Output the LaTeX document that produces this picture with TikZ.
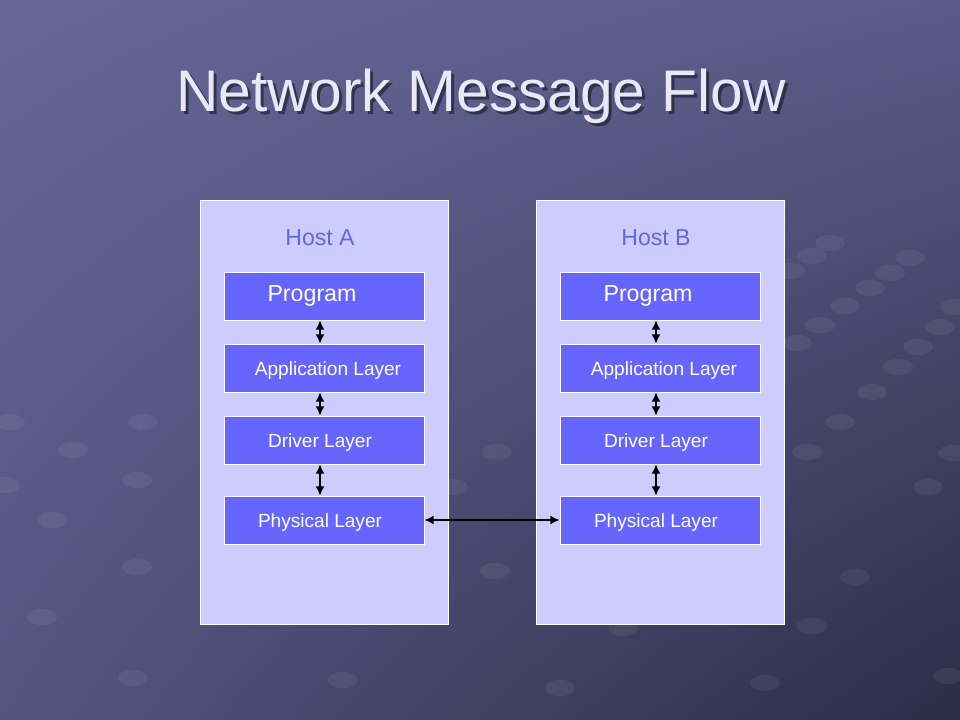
\documentclass[tikz,border=0pt]{standalone}
\usepackage{fontspec}
\setmainfont{Liberation Sans}
\usetikzlibrary{arrows.meta,shadings}
\definecolor{bgtop}{RGB}{102,102,152}
\definecolor{bgbot}{RGB}{44,44,70}
\definecolor{hostfill}{RGB}{204,204,255}
\definecolor{layerfill}{RGB}{102,102,255}
\definecolor{hostlabel}{RGB}{102,102,221}
\definecolor{titlecol}{RGB}{232,232,248}
\begin{document}
\begin{tikzpicture}[x=0.75pt,y=-0.75pt]
        \tikzstyle{host}=[draw=white,line width=0.6pt,fill=hostfill,minimum width=186pt,minimum height=318pt,inner sep=0pt]
        \tikzstyle{layer}=[draw=white,line width=0.6pt,fill=layerfill,minimum width=150pt,minimum height=36pt,inner sep=0pt]
        \tikzstyle{layertext}=[anchor=base,text=white,font=\fontsize{14.3}{16}\selectfont,inner sep=0pt]
        \tikzstyle{link}=[draw,{Latex[length=7pt,width=6.5pt]}-{Latex[length=7pt,width=6.5pt]},line width=0.8pt]
        % background
        \shade[upper left=bgtop,upper right=bgtop!80!bgbot,lower left=bgtop!70!bgbot,lower right=bgbot] (0,0) rectangle (960,720);
        \useasboundingbox (0,0) rectangle (960,720);
        \foreach \px/\py in {830/243,812/256,790/271,910/258,890/273,870/288,845/306,820/325,797/343,
            955/307,940/327,918/347,898/367,872/392,840/422,807/452,953/453,928/487,
            855/577,812/626,765/683,948/676,623/628,10/422,143/422,73/450,137/480,5/485,
            53/520,137/567,42/617,133/678,497/452,495/571,453/487,343/680,560/688}
          \fill[white,opacity=0.06] (\px,\py) ellipse (15 and 8);
        % title
        \node[anchor=base,text=black,opacity=0.45,font=\fontsize{44}{50}\selectfont] (shadow) at (484,115) {Network Message Flow};
        \node[anchor=base,text=titlecol,font=\fontsize{44}{50}\selectfont] (title) at (481,112) {Network Message Flow};
        \begin{scope}
         % host A
         \node [host] (hA) at (324,412) {};
         \node [anchor=base,text=hostlabel,font=\fontsize{17.3}{20}\selectfont] (hAl) at (320,246) {Host A};
         \node [layer] (pA) at (324,296) {};
         \node [layer] (aA) at (324,368) {};
         \node [layer] (dA) at (324,440) {};
         \node [layer] (yA) at (324,520) {};
         \node [layertext,font=\fontsize{17.4}{20}\selectfont] at (312,301) {Program};
         \node [layertext] at (328,375) {Application Layer};
         \node [layertext] at (320,447) {Driver Layer};
         \node [layertext] at (320,527) {Physical Layer};
         % host B
         \node [host] (hB) at (660,412) {};
         \node [anchor=base,text=hostlabel,font=\fontsize{17.3}{20}\selectfont] (hBl) at (656,246) {Host B};
         \node [layer] (pB) at (660,296) {};
         \node [layer] (aB) at (660,368) {};
         \node [layer] (dB) at (660,440) {};
         \node [layer] (yB) at (660,520) {};
         \node [layertext,font=\fontsize{17.4}{20}\selectfont] at (648,301) {Program};
         \node [layertext] at (664,375) {Application Layer};
         \node [layertext] at (656,447) {Driver Layer};
         \node [layertext] at (656,527) {Physical Layer};

         \path[link] ([xshift=-3pt]pA.south) -- ([xshift=-3pt]aA.north);
         \path[link] ([xshift=-3pt]aA.south) -- ([xshift=-3pt]dA.north);
         \path[link] ([xshift=-3pt]dA.south) -- ([xshift=-3pt]yA.north);
         \path[link] ([xshift=-3pt]pB.south) -- ([xshift=-3pt]aB.north);
         \path[link] ([xshift=-3pt]aB.south) -- ([xshift=-3pt]dB.north);
         \path[link] ([xshift=-3pt]dB.south) -- ([xshift=-3pt]yB.north);
         \path[link] (yA.east) -- (yB.west);
        \end{scope}
\end{tikzpicture}
\end{document}
